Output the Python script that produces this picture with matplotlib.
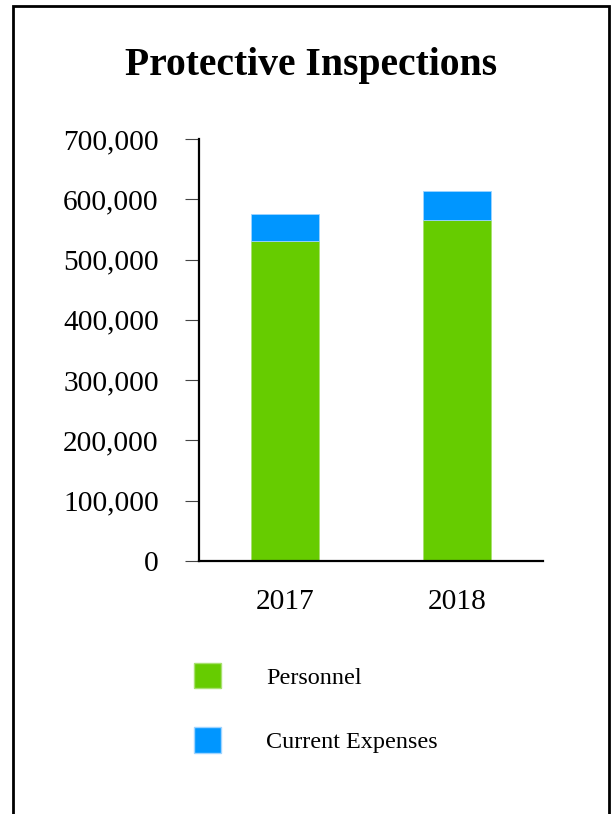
import matplotlib
matplotlib.use("Agg")
import matplotlib.pyplot as plt
from matplotlib.patches import Rectangle, Patch
from matplotlib.ticker import FuncFormatter

years = ["2017", "2018"]
personnel = [531000, 566000]
current_expenses = [44000, 48000]
series_names = ["Personnel", "Current Expenses"]
y_ticks = [0, 100000, 200000, 300000, 400000, 500000, 600000, 700000]

GREEN = "#66cc00"
BLUE = "#0096ff"

plt.rcParams["font.family"] = ["Liberation Serif", "DejaVu Serif"]

fig = plt.figure(figsize=(6.12, 8.14), dpi=100)
ax = fig.add_axes([199 / 612, 1 - 561 / 814, 344 / 612, 422 / 814])

x = range(len(years))
ax.bar(x, personnel, width=0.4, color=GREEN, edgecolor="#a8e070", linewidth=0.6)
ax.bar(x, current_expenses, bottom=personnel, width=0.4, color=BLUE,
       edgecolor="#9fd4ff", linewidth=0.6)

ax.set_xlim(-0.5, 1.5)
ax.set_ylim(0, 700000)
ax.set_yticks(y_ticks)
ax.yaxis.set_major_formatter(FuncFormatter(lambda v, _: f"{int(v):,}"))
ax.set_xticks(list(x))
ax.set_xticklabels(years)

ax.spines["top"].set_visible(False)
ax.spines["right"].set_visible(False)
ax.spines["left"].set_linewidth(1.6)
ax.spines["bottom"].set_linewidth(1.6)
ax.tick_params(axis="y", length=10, width=0.8, color="#444444", pad=19, labelsize=21.2)
ax.tick_params(axis="x", length=0, pad=20, labelsize=21.2)

# title
fig.text(311.5 / 612, 1 - 75 / 814, "Protective Inspections", ha="center",
         va="baseline", fontsize=28.5, fontweight="bold")

# legend
handles = [Patch(facecolor=GREEN, edgecolor="#a8e070"),
           Patch(facecolor=BLUE, edgecolor="#9fd4ff")]
fig.legend(handles, series_names, loc="upper left",
           bbox_to_anchor=(182 / 612, 1 - 651 / 814), frameon=False,
           fontsize=17.4, handlelength=1.12, handleheight=1.22,
           handletextpad=1.85, labelspacing=1.6, borderpad=0)

# frame around the figure
fig.add_artist(Rectangle((13 / 612, -0.02), 596 / 612, 1.02 - 6 / 814,
                         transform=fig.transFigure, fill=False,
                         edgecolor="black", linewidth=2))

fig.savefig("out.png", dpi=100)
